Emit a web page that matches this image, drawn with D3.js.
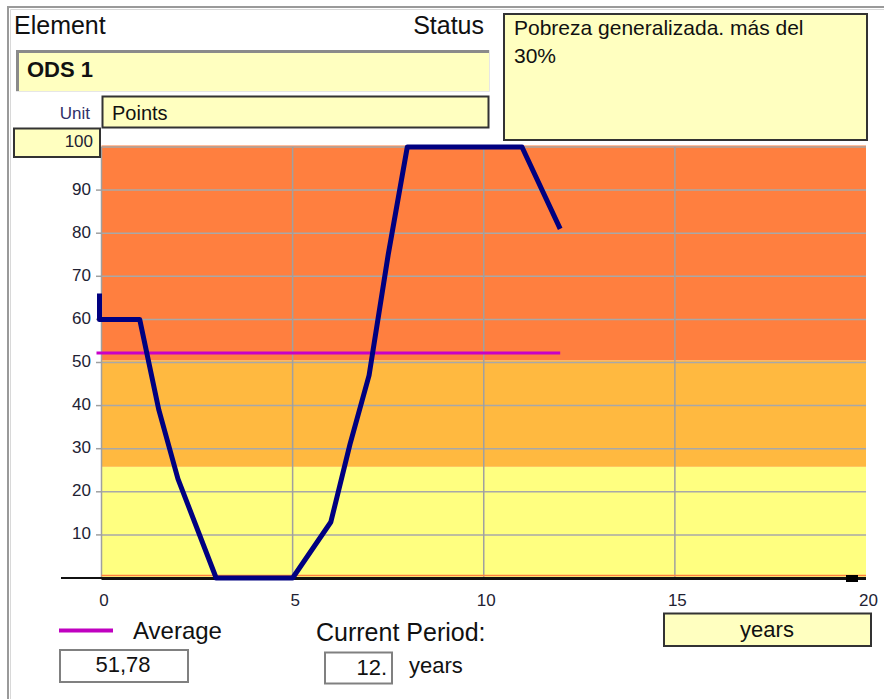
<!DOCTYPE html>
<html>
<head>
<meta charset="utf-8">
<script src="https://cdn.jsdelivr.net/npm/d3@7"></script>
<style>
  body { margin: 0; background: #fff; }
  svg { display: block; font-family: "Liberation Sans", Arial, sans-serif; }
</style>
</head>
<body>
<div class="svg__ods"></div>
<script>
// values
const years = [0, 0, 1, 1.5, 2, 3, 5, 6, 6.5, 7, 7.5, 8, 11, 12]
const points = [66, 60, 60, 39, 23, 0, 0, 13, 31, 47, 75, 100, 100, 81]
const avgLevel = 52.2
const avgSpan = [0, 12]
const bandEdges = [0, 25.8, 50.5, 100]
const bandColors = ['#FFFF80', '#FFB940', '#FF7F3F']
const yTicks = [10, 20, 30, 40, 50, 60, 70, 80, 90]
const xTicks = [0, 5, 10, 15, 20]
const labels = {
    element: 'Element',
    status: 'Status',
    name: 'ODS 1',
    unit: 'Unit',
    unitName: 'Points',
    yMax: '100',
    statusText: ['Pobreza generalizada. más del', '30%'],
    average: 'Average',
    averageValue: '51,78',
    period: 'Current Period:',
    periodValue: '12.',
    periodUnit: 'years',
    axisUnit: 'years'
}

const boxFill = '#FFFFC0'

const svg = d3.select('.svg__ods')
    .append('svg')
    .attr('width', 884)
    .attr('height', 699)

// window frame (left + top)
svg.append('path').attr('d', 'M8,699 V7 H884').attr('fill', 'none').attr('stroke', '#9a9a9a').attr('stroke-width', 2)
svg.append('path').attr('d', 'M10.5,699 V9.5 H884').attr('fill', 'none').attr('stroke', '#d8d8d8').attr('stroke-width', 1)

// scales
const x = d3.scaleLinear().domain([0, 20]).range([101.5, 866])
const y = d3.scaleLinear().domain([0, 100]).range([578, 147])

// header
svg.append('text').attr('x', 14).attr('y', 34).attr('font-size', 25).attr('fill', '#111').text(labels.element)
svg.append('text').attr('x', 484).attr('y', 34).attr('font-size', 25).attr('fill', '#111')
    .attr('text-anchor', 'end').text(labels.status)

// ODS box (sunken)
svg.append('rect').attr('x', 16).attr('y', 50).attr('width', 473).attr('height', 42).attr('fill', boxFill)
svg.append('path').attr('d', 'M17.5,92 V51.5 H489').attr('fill', 'none').attr('stroke', '#8a8a8a').attr('stroke-width', 3)
svg.append('path').attr('d', 'M16,91.5 H489.5 V50').attr('fill', 'none').attr('stroke', '#e6e6e6').attr('stroke-width', 1)
svg.append('text').attr('x', 27).attr('y', 77).attr('font-size', 22).attr('font-weight', 'bold')
    .attr('fill', '#111').text(labels.name)

// unit
svg.append('text').attr('x', 90).attr('y', 119).attr('font-size', 17).attr('fill', '#303068')
    .attr('text-anchor', 'end').text(labels.unit)
svg.append('rect').attr('x', 102.5).attr('y', 96.5).attr('width', 386).attr('height', 31)
    .attr('fill', boxFill).attr('stroke', '#333').attr('stroke-width', 2)
svg.append('text').attr('x', 112).attr('y', 120).attr('font-size', 20).attr('fill', '#111').text(labels.unitName)

// status box
svg.append('rect').attr('x', 504).attr('y', 14).attr('width', 363).attr('height', 126)
    .attr('fill', boxFill).attr('stroke', '#333').attr('stroke-width', 2)
svg.append('text').attr('font-size', 21).attr('fill', '#111')
    .selectAll('tspan')
    .data(labels.statusText)
    .enter()
    .append('tspan')
    .attr('x', 514)
    .attr('y', (d, i) => 35 + i * 28)
    .text(d => d)

// bands
svg.append('g')
    .selectAll('rect')
    .data(bandColors)
    .enter()
    .append('rect')
    .attr('x', x(0))
    .attr('width', x(20) - x(0))
    .attr('y', (d, i) => y(bandEdges[i + 1]) - (i === 2 ? 1.5 : 0))
    .attr('height', (d, i) => y(bandEdges[i]) - y(bandEdges[i + 1]) + (i === 2 ? 1.5 : 0))
    .attr('fill', d => d)

// grid
svg.append('g')
    .selectAll('line')
    .data(yTicks.concat([100]))
    .enter()
    .append('line')
    .attr('x1', x(0)).attr('x2', x(20))
    .attr('y1', d => y(d)).attr('y2', d => y(d))
    .attr('stroke', '#a8a8a8').attr('stroke-width', 1.5)

svg.append('g')
    .selectAll('line')
    .data([5, 10, 15])
    .enter()
    .append('line')
    .attr('x1', d => x(d)).attr('x2', d => x(d))
    .attr('y1', y(100)).attr('y2', y(0))
    .attr('stroke', '#a0a0a0').attr('stroke-width', 1.5)

svg.append('line')
    .attr('x1', x(0)).attr('x2', x(0)).attr('y1', y(100)).attr('y2', y(0))
    .attr('stroke', '#a0a0a0').attr('stroke-width', 1.5)

// y axis ticks + labels
const yAxis = svg.append('g')
yAxis.selectAll('line')
    .data(yTicks)
    .enter()
    .append('line')
    .attr('x1', 96).attr('x2', x(0))
    .attr('y1', d => y(d)).attr('y2', d => y(d))
    .attr('stroke', '#a0a0a0').attr('stroke-width', 1.5)
yAxis.selectAll('text')
    .data(yTicks)
    .enter()
    .append('text')
    .attr('x', 91)
    .attr('y', d => y(d) + 4.5)
    .attr('text-anchor', 'end')
    .attr('font-size', 17)
    .attr('fill', '#222233')
    .text(d => d)

// y max box
svg.append('rect').attr('x', 14).attr('y', 128.5).attr('width', 86).attr('height', 28.5)
    .attr('fill', boxFill).attr('stroke', '#333').attr('stroke-width', 2)
svg.append('text').attr('x', 93).attr('y', 147).attr('font-size', 17).attr('fill', '#222233')
    .attr('text-anchor', 'end').text(labels.yMax)

// x axis
svg.append('line').attr('x1', x(0)).attr('x2', x(20)).attr('y1', y(0) - 2.5).attr('y2', y(0) - 2.5)
    .attr('stroke', '#FF8040').attr('stroke-width', 1.5)
svg.append('line').attr('x1', 61).attr('x2', x(20)).attr('y1', y(0)).attr('y2', y(0))
    .attr('stroke', '#111').attr('stroke-width', 2)
svg.append('line').attr('x1', x(0)).attr('x2', x(20)).attr('y1', y(0) + 0.8).attr('y2', y(0) + 0.8)
    .attr('stroke', '#111').attr('stroke-width', 2.5)
svg.append('rect').attr('x', x(20) - 20).attr('y', y(0) - 3).attr('width', 12).attr('height', 7).attr('fill', '#000')

svg.append('g')
    .selectAll('text')
    .data(xTicks)
    .enter()
    .append('text')
    .attr('x', d => x(d) + 2.5)
    .attr('y', 606)
    .attr('text-anchor', 'middle')
    .attr('font-size', 17)
    .attr('fill', '#222233')
    .text(d => d)

// average line
svg.append('line')
    .attr('x1', x(avgSpan[0]) - 5).attr('x2', x(avgSpan[1]))
    .attr('y1', y(avgLevel)).attr('y2', y(avgLevel))
    .attr('stroke', '#C800C8').attr('stroke-width', 3)

// main series
const line = d3.line()
    .x((d, i) => x(years[i]) - (i < 2 ? 2 : 0))
    .y(d => y(d))

svg.append('path')
    .datum(points)
    .attr('d', line)
    .attr('fill', 'none')
    .attr('stroke', '#000080')
    .attr('stroke-width', 5)
    .attr('stroke-linejoin', 'round')

// legend + footer
svg.append('line').attr('x1', 59).attr('x2', 113).attr('y1', 630.5).attr('y2', 630.5)
    .attr('stroke', '#C000C0').attr('stroke-width', 4)
svg.append('text').attr('x', 133).attr('y', 639).attr('font-size', 24).attr('fill', '#111').text(labels.average)
svg.append('rect').attr('x', 60).attr('y', 650).attr('width', 128).attr('height', 32)
    .attr('fill', '#fff').attr('stroke', '#808080').attr('stroke-width', 2)
svg.append('text').attr('x', 123).attr('y', 672).attr('font-size', 22).attr('fill', '#111')
    .attr('text-anchor', 'middle').text(labels.averageValue)

svg.append('text').attr('x', 316).attr('y', 641).attr('font-size', 25).attr('fill', '#111').text(labels.period)
svg.append('rect').attr('x', 325).attr('y', 652.5).attr('width', 67).attr('height', 31)
    .attr('fill', '#fff').attr('stroke', '#808080').attr('stroke-width', 2)
svg.append('text').attr('x', 387).attr('y', 675).attr('font-size', 22).attr('fill', '#111')
    .attr('text-anchor', 'end').text(labels.periodValue)
svg.append('text').attr('x', 409).attr('y', 673).attr('font-size', 22).attr('fill', '#111').text(labels.periodUnit)

svg.append('rect').attr('x', 664).attr('y', 613.5).attr('width', 207).attr('height', 32.5)
    .attr('fill', boxFill).attr('stroke', '#333').attr('stroke-width', 2)
svg.append('text').attr('x', 767).attr('y', 637).attr('font-size', 22).attr('fill', '#111')
    .attr('text-anchor', 'middle').text(labels.axisUnit)
</script>
</body>
</html>
